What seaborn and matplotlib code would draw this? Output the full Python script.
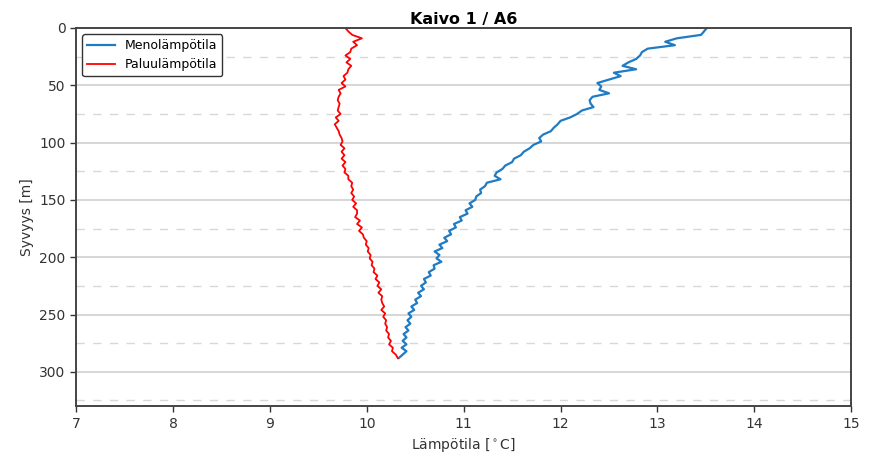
import matplotlib
matplotlib.use("Agg")
import matplotlib.pyplot as plt
import seaborn as sns
import pandas as pd

# depth [m] for each reading
depth = list(range(0, 291, 3))

# supply temperature (Menolämpötila) [°C]
meno = [13.51, 13.48, 13.45, 13.20, 13.08, 13.18, 12.90, 12.84, 12.82, 12.78,
        12.70, 12.64, 12.78, 12.55, 12.62, 12.50, 12.38, 12.42, 12.40, 12.50,
        12.33, 12.30, 12.31, 12.34, 12.22, 12.17, 12.10,
        12.00, 11.97, 11.93, 11.90, 11.82, 11.78, 11.80, 11.72, 11.68, 11.62,
        11.59, 11.52, 11.50, 11.43, 11.40, 11.34, 11.32, 11.38, 11.24, 11.22,
        11.17, 11.18, 11.13,
        11.12, 11.06, 11.09, 11.02, 11.04, 10.96, 10.98, 10.90, 10.92, 10.85,
        10.87, 10.80, 10.83, 10.75, 10.78, 10.70, 10.75, 10.72, 10.77, 10.69,
        10.70, 10.64, 10.66, 10.59, 10.61, 10.56, 10.59, 10.53, 10.56, 10.50,
        10.52, 10.46, 10.49, 10.43, 10.46, 10.42, 10.45, 10.40, 10.43, 10.38,
        10.41, 10.37, 10.41, 10.36, 10.41, 10.37, 10.33]

# return temperature (Paluulämpötila) [°C]
paluu = [9.78, 9.81, 9.85, 9.95, 9.86, 9.90, 9.84, 9.83, 9.78, 9.83,
         9.79, 9.84, 9.81, 9.80, 9.76, 9.78, 9.74, 9.78, 9.71, 9.73,
         9.71, 9.70, 9.72, 9.71, 9.70, 9.73, 9.68, 9.71, 9.67, 9.69,
         9.71, 9.72, 9.74, 9.75, 9.73, 9.77, 9.74, 9.77, 9.74, 9.78,
         9.75, 9.78, 9.77, 9.81, 9.81, 9.85, 9.84, 9.86, 9.84, 9.87,
         9.85, 9.89, 9.86, 9.90, 9.90, 9.88, 9.93, 9.90, 9.95, 9.92,
         9.96, 9.97, 10.00, 9.99, 10.02, 10.01, 10.04, 10.03, 10.06, 10.05,
         10.08, 10.07, 10.11, 10.09, 10.13, 10.11, 10.15, 10.12, 10.16, 10.15,
         10.16, 10.18, 10.15, 10.19, 10.17, 10.20, 10.19, 10.21, 10.20, 10.23,
         10.22, 10.25, 10.23, 10.27, 10.26, 10.30, 10.32]

n = min(len(depth), len(meno), len(paluu))
df = pd.DataFrame({"depth": depth[:n], "meno": meno[:n], "paluu": paluu[:n]})

fig = plt.figure(figsize=(8.74, 4.59), dpi=100)
ax = fig.add_axes([0.087, 0.115, 0.887, 0.824])

sns.lineplot(data=df, x="meno", y="depth", orient="y", estimator=None, sort=False,
             color="#1f7bc4", linewidth=1.6, label="Menolämpötila", ax=ax)
sns.lineplot(data=df, x="paluu", y="depth", orient="y", estimator=None, sort=False,
             color="red", linewidth=1.3, label="Paluulämpötila", ax=ax)

ax.set_xlim(7, 15)
ax.set_ylim(330, 0)
ax.set_xticks(range(7, 16))
ax.set_yticks(range(0, 301, 50))
ax.set_yticks(range(25, 330, 50), minor=True)
ax.tick_params(which="minor", length=0)
ax.tick_params(which="major", length=4, width=1, labelsize=10, colors="#333333")
ax.grid(axis="y", which="major", color="#cccccc", linewidth=1.1, linestyle="-")
ax.grid(axis="y", which="minor", color="#d8d8d8", linewidth=1.0, linestyle=(0, (6, 6)))
ax.grid(axis="x", visible=False)
ax.set_axisbelow(True)

for s in ax.spines.values():
    s.set_color("#444444")
    s.set_linewidth(1.4)

ax.set_title("Kaivo 1 / A6", fontsize=11.5, fontweight="bold", pad=3)
ax.set_xlabel("Lämpötila [$^\\circ$C]", fontsize=10, color="#333333")
ax.set_ylabel("Syvyys [m]", fontsize=10, color="#333333")

leg = ax.legend(loc="upper left", fontsize=9, frameon=True, fancybox=True,
                borderaxespad=0.5, handlelength=2.2)
leg.get_frame().set_edgecolor("#333333")
leg.get_frame().set_linewidth(1.0)
leg.get_frame().set_alpha(1.0)

fig.savefig("out.png", dpi=100)
